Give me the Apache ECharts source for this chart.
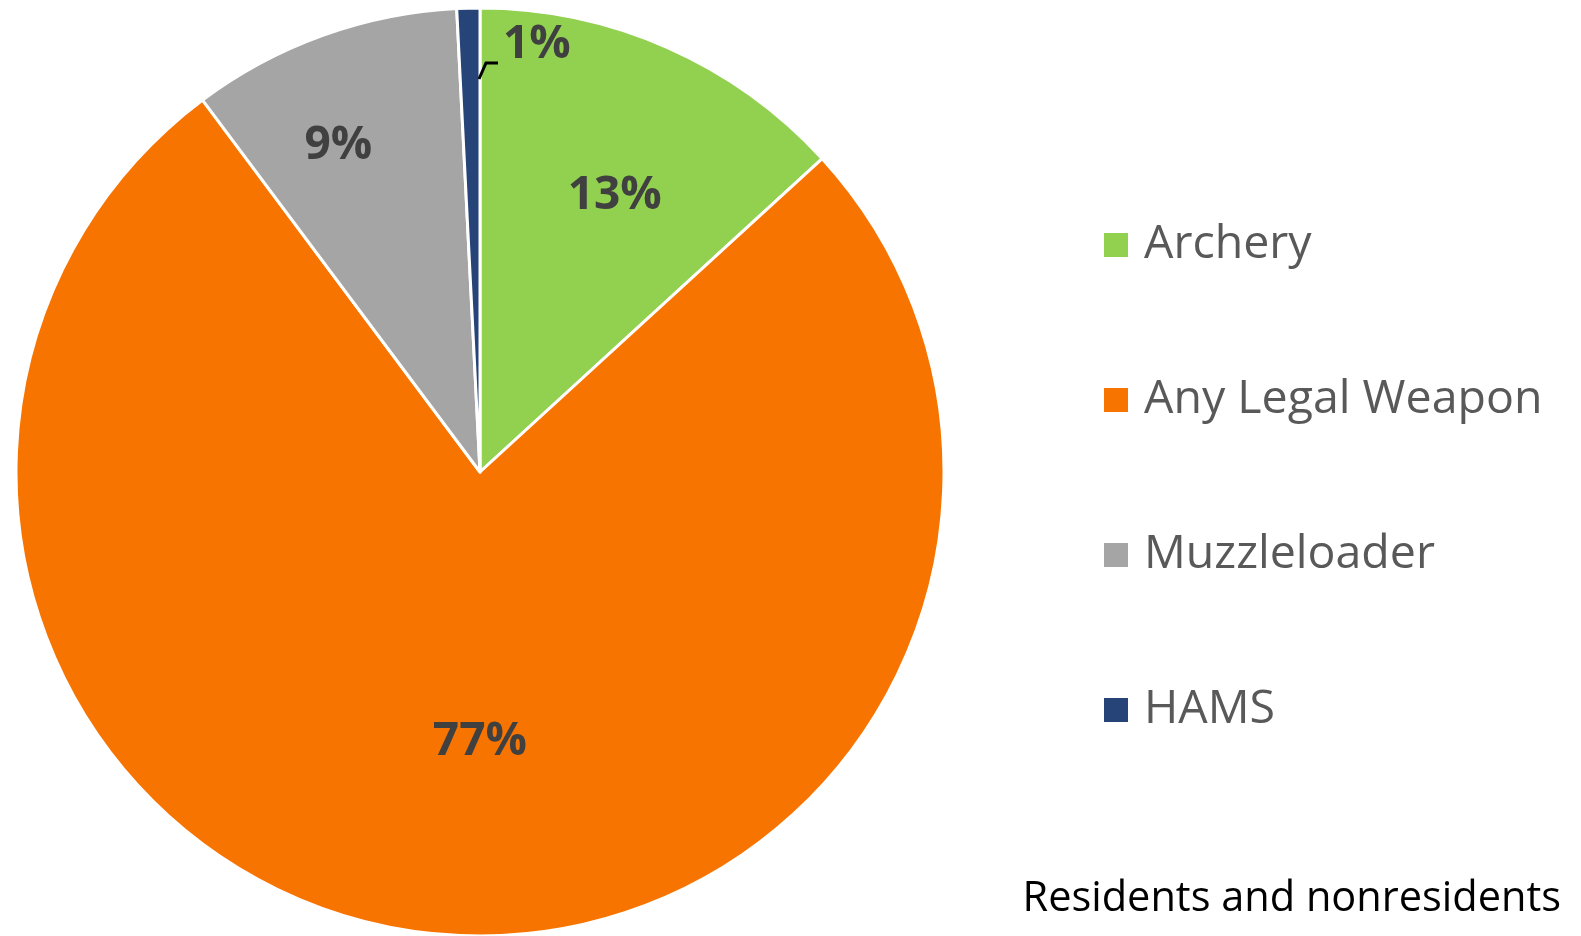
<!DOCTYPE html>
<html>
<head>
<meta charset="utf-8">
<script src="https://cdn.jsdelivr.net/npm/echarts@6/dist/echarts.min.js"></script>
<style>
  html, body { margin: 0; padding: 0; background: #fff; }
  #main { width: 1581px; height: 936px; }
</style>
</head>
<body>
<div id="main"></div>
<script>
  // data (percent of hunters)
  const categories = ['Archery', 'Any Legal Weapon', 'Muzzleloader', 'HAMS'];
  const values = [13.2, 76.6, 9.4, 0.8];
  const colors = ['#92D050', '#F87400', '#A5A5A5', '#264478'];
  const note = 'Residents and nonresidents';

  const cx = 480, cy = 472, R = 464;
  // nudges of the inside labels from ECharts' default mid-radius spot
  const labelShift = [[40, -61], [22, 36], [-62, -105], [0, 0]];

  const myChart = echarts.init(document.getElementById('main'));

  const option = {
    animation: false,
    textStyle: { fontFamily: 'Open Sans' },
    title: {
      text: note,
      right: 15,
      top: 873,
      textStyle: { fontFamily: 'Open Sans', fontWeight: 'normal', fontSize: 41.5, color: '#000' }
    },
    legend: {
      orient: 'vertical',
      left: 1097,
      top: 215,
      icon: 'rect',
      itemWidth: 26,
      itemHeight: 26,
      itemGap: 105,
      data: categories,
      textStyle: {
        fontFamily: 'Open Sans',
        fontSize: 46.5,
        lineHeight: 50,
        color: '#595959',
        padding: [0, 0, 0, 10]
      }
    },
    // small leader line from the HAMS slice to its label
    graphic: [{
      type: 'polyline',
      silent: true,
      z: 10,
      shape: { points: [[cx - 1, cy - 393], [cx + 6, cy - 409], [cx + 18, cy - 409]] },
      style: { stroke: '#000', lineWidth: 3, fill: null }
    }],
    series: [{
      type: 'pie',
      center: [cx, cy],
      radius: [0, R],
      startAngle: 90,
      clockwise: true,
      silent: true,
      itemStyle: { borderColor: '#fff', borderWidth: 3 },
      label: {
        show: true,
        position: 'inside',
        fontFamily: 'Open Sans',
        fontWeight: 'bold',
        fontSize: 46,
        color: '#404040',
        formatter: function (p) { return Math.round(p.value) + '%'; }
      },
      labelLine: { show: false },
      labelLayout: function (p) {
        if (p.dataIndex === 3) {
          return { x: cx + 23, y: cy - 427, align: 'left', verticalAlign: 'middle' };
        }
        const s = labelShift[p.dataIndex];
        return { dx: s[0], dy: s[1] };
      },
      data: categories.map(function (name, i) {
        return { name: name, value: values[i], itemStyle: { color: colors[i] } };
      })
    }]
  };

  myChart.setOption(option);
</script>
</body>
</html>
